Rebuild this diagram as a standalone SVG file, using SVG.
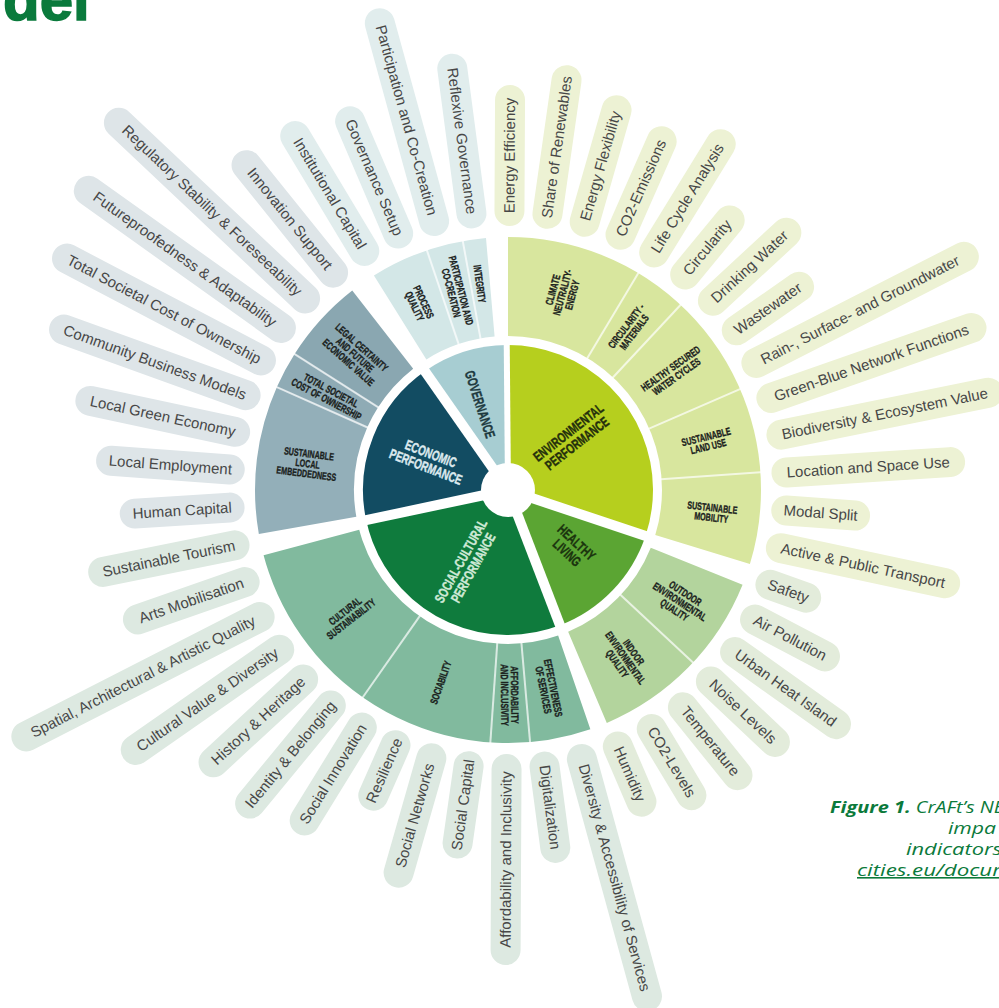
<svg xmlns="http://www.w3.org/2000/svg" width="999" height="1008" viewBox="0 0 999 1008">
<style>
.mid{fill:none;stroke-width:99}
.inn{fill:none;stroke-width:145}
.pill text{font-family:"Liberation Sans",Arial,sans-serif;font-size:15px;fill:#474747;text-anchor:middle}
.cE rect{fill:#edf2d4}
.cH rect{fill:#e3ecdb}
.cS rect{fill:#dde9e1}
.cC rect{fill:#dee5e8}
.cG rect{fill:#e1eded}
.ml{font-family:"Liberation Sans",Arial,sans-serif;font-weight:bold;font-size:10.5px;fill:#1a211c;stroke:#1a211c;stroke-width:0.35;text-anchor:middle}
.il{font-family:"Liberation Sans",Arial,sans-serif;font-weight:bold;font-size:14px;stroke-width:0.4;text-anchor:middle}
.sep{stroke:#fff;stroke-width:10;fill:none}
.sub{stroke:#fff;stroke-opacity:.7;stroke-width:2;fill:none}
.cap{font-family:"Open Sans","Liberation Sans",sans-serif;font-style:italic;font-size:16px;fill:#0b7a3b}
</style>
<rect width="999" height="1008" fill="#fff"/>
<text x="3" y="20" font-family="Liberation Sans, Arial, sans-serif" font-weight="bold" font-size="60" fill="#0a7a3c" stroke="#0a7a3c" stroke-width="1.5">del</text>

<!-- middle ring -->
<g id="mid-environmental"><circle class="mid" cx="508" cy="490" r="203.5" stroke="#d8e69e" stroke-dasharray="380 2000" transform="rotate(-90 508 490)"/>
<text class="ml" transform="translate(562.4,292.4) rotate(-74.6) scale(0.68,1)"><tspan x="0" y="-6.24">CLIMATE</tspan><tspan x="0" y="3.76">NEUTRALITY-</tspan><tspan x="0" y="13.76">ENERGY</tspan></text>
<text class="ml" transform="translate(630.1,329.1) rotate(-52.8) scale(0.68,1)"><tspan x="0" y="-1.24">CIRCULARITY -</tspan><tspan x="0" y="8.76">MATERIALS</tspan></text>
<text class="ml" transform="translate(673.5,372.4) rotate(-35.4) scale(0.68,1)"><tspan x="0" y="-1.24">HEALTHY SECURED</tspan><tspan x="0" y="8.76">WATER CYCLES</tspan></text>
<text class="ml" transform="translate(707.2,441.5) rotate(-13.7) scale(0.68,1)"><tspan x="0" y="-1.24">SUSTAINABLE</tspan><tspan x="0" y="8.76">LAND USE</tspan></text>
<text class="ml" transform="translate(711.8,512.5) rotate(6.3) scale(0.68,1)"><tspan x="0" y="-1.24">SUSTAINABLE</tspan><tspan x="0" y="8.76">MOBILITY</tspan></text>
</g>
<g id="mid-healthy"><circle class="mid" cx="508" cy="490" r="203.5" stroke="#b3d49d" stroke-dasharray="159.8 2000" transform="rotate(22 508 490)"/>
<text class="ml" transform="translate(679.9,601.6) rotate(33) scale(0.68,1)"><tspan x="0" y="-6.24">OUTDOOR</tspan><tspan x="0" y="3.76">ENVIRONMENTAL</tspan><tspan x="0" y="13.76">QUALITY</tspan></text>
<text class="ml" transform="translate(625.6,657.9) rotate(55) scale(0.68,1)"><tspan x="0" y="-6.24">INDOOR</tspan><tspan x="0" y="3.76">ENVIRONMENTAL</tspan><tspan x="0" y="13.76">QUALITY</tspan></text>
</g>
<g id="mid-social"><circle class="mid" cx="508" cy="490" r="203.5" stroke="#81ba9e" stroke-dasharray="333.9 2000" transform="rotate(71 508 490)"/>
<text class="ml" transform="translate(548.5,688.9) rotate(78.5) scale(0.68,1)"><tspan x="0" y="-1.24">EFFECTIVENESS</tspan><tspan x="0" y="8.76">OF SERVICES</tspan></text>
<text class="ml" transform="translate(509.8,695) rotate(89.5) scale(0.68,1)"><tspan x="0" y="-1.24">AFFORDABILITY</tspan><tspan x="0" y="8.76">AND INCLUSIVITY</tspan></text>
<text class="ml" transform="translate(440.6,682.5) rotate(-70.7) scale(0.68,1)"><tspan x="0" y="3.76">SOCIABILITY</tspan></text>
<text class="ml" transform="translate(348,615) rotate(-38) scale(0.68,1)"><tspan x="0" y="-1.24">CULTURAL</tspan><tspan x="0" y="8.76">SUSTAINABILITY</tspan></text>
</g>
<g id="mid-economic">
<circle class="mid" cx="508" cy="490" r="203.5" stroke="#93afb9" stroke-dasharray="120.8 2000" transform="rotate(170 508 490)"/>
<circle class="mid" cx="508" cy="490" r="203.5" stroke="#8fabb5" stroke-dasharray="30.2 2000" transform="rotate(204 508 490)"/>
<circle class="mid" cx="508" cy="490" r="203.5" stroke="#8aa7b1" stroke-dasharray="69.3 2000" transform="rotate(212.5 508 490)"/>
<text class="ml" transform="translate(307.7,463.6) rotate(7.5) scale(0.68,1)"><tspan x="0" y="-6.24">SUSTAINABLE</tspan><tspan x="0" y="3.76">LOCAL</tspan><tspan x="0" y="13.76">EMBEDDEDNESS</tspan></text>
<text class="ml" transform="translate(328.8,394.7) rotate(28) scale(0.68,1)"><tspan x="0" y="-1.24">TOTAL SOCIETAL</tspan><tspan x="0" y="8.76">COST OF OWNERSHIP</tspan></text>
<text class="ml" transform="translate(355.2,354.8) rotate(41.5) scale(0.68,1)"><tspan x="0" y="-6.24">LEGAL CERTAINTY</tspan><tspan x="0" y="3.76">AND FUTURE</tspan><tspan x="0" y="13.76">ECONOMIC VALUE</tspan></text>
</g>
<g id="mid-governance"><circle class="mid" cx="508" cy="490" r="203.5" stroke="#d3e7e7" stroke-dasharray="95.9 2000" transform="rotate(238 508 490)"/>
<text class="ml" transform="translate(419.3,304.1) rotate(64.5) scale(0.68,1)"><tspan x="0" y="-1.24">PROCESS</tspan><tspan x="0" y="8.76">QUALITY</tspan></text>
<text class="ml" transform="translate(456.3,291.6) rotate(75.4) scale(0.68,1)"><tspan x="0" y="-1.24">PARTICIPATION AND</tspan><tspan x="0" y="8.76">CO-CREATION</tspan></text>
<text class="ml" transform="translate(479.8,283.9) rotate(82.2) scale(0.68,1)"><tspan x="0" y="3.76">INTEGRITY</tspan></text>
</g>

<!-- inner ring -->
<g id="environmental-performance"><circle class="inn" cx="508" cy="490" r="72.5" stroke="#b6cf1e" stroke-dasharray="137.9 1000" transform="rotate(-90.5 508 490)"/>
<text class="il" fill="#242f0c" stroke="#242f0c" transform="translate(572.5,437.8) rotate(-38) scale(0.7,1)"><tspan x="0" y="-2">ENVIRONMENTAL</tspan><tspan x="0" y="12">PERFORMANCE</tspan></text></g>
<g id="healthy-living"><circle class="inn" cx="508" cy="490" r="72.5" stroke="#5ba533" stroke-dasharray="63.9 1000" transform="rotate(18.5 508 490)"/>
<text class="il" fill="#1a330e" stroke="#1a330e" transform="translate(571.9,547.5) rotate(43) scale(0.7,1)"><tspan x="0" y="-2">HEALTHY</tspan><tspan x="0" y="12">LIVING</tspan></text></g>
<g id="social-cultural-performance"><circle class="inn" cx="508" cy="490" r="72.5" stroke="#0f7b3d" stroke-dasharray="125.3 1000" transform="rotate(69 508 490)"/>
<text class="il" fill="#cfe9d6" stroke="#cfe9d6" transform="translate(466.8,564.3) rotate(-61) scale(0.7,1)"><tspan x="0" y="-2">SOCIAL-CULTURAL</tspan><tspan x="0" y="12">PERFORMANCE</tspan></text></g>
<g id="economic-performance"><circle class="inn" cx="508" cy="490" r="72.5" stroke="#124c62" stroke-dasharray="84.8 1000" transform="rotate(168 508 490)"/>
<text class="il" fill="#dce9ee" stroke="#dce9ee" transform="translate(428.4,460.1) rotate(21) scale(0.7,1)"><tspan x="0" y="-2">ECONOMIC</tspan><tspan x="0" y="12">PERFORMANCE</tspan></text></g>
<g id="governance"><circle class="inn" cx="508" cy="490" r="72.5" stroke="#a7cdd2" stroke-dasharray="43.7 1000" transform="rotate(235 508 490)"/>
<text class="il" fill="#1e3a40" stroke="#1e3a40" transform="translate(480.2,404.4) rotate(72) scale(0.7,1)"><tspan x="0" y="5">GOVERNANCE</tspan></text></g>

<g id="separators">
<line class="sep" x1="508" y1="490" x2="650.2" y2="537.6"/>
<line class="sep" x1="508" y1="490" x2="561.8" y2="630"/>
<line class="sep" x1="508" y1="490" x2="361.3" y2="521.2"/>
<line class="sep" x1="508" y1="490" x2="422" y2="367.1"/>
<line class="sep" x1="508" y1="490" x2="506.7" y2="340" style="stroke-width:6"/>
<line class="sub" x1="585.3" y1="361.4" x2="640.9" y2="268.8"/>
<line class="sub" x1="610.3" y1="380.3" x2="684" y2="301.3"/>
<line class="sub" x1="645.6" y1="430.2" x2="744.6" y2="387.1"/>
<line class="sub" x1="657.6" y1="479.5" x2="765.4" y2="472"/>
<line class="sub" x1="617.7" y1="592.3" x2="696.7" y2="666"/>
<line class="sub" x1="521.1" y1="639.4" x2="530.5" y2="747"/>
<line class="sub" x1="497.5" y1="639.6" x2="490" y2="747.4"/>
<line class="sub" x1="422" y1="612.9" x2="360" y2="701.3"/>
<line class="sub" x1="370.97" y1="429" x2="272.3" y2="385.1"/>
<line class="sub" x1="381.5" y1="409.4" x2="290.4" y2="351.4"/>
<line class="sub" x1="459.9" y1="347.9" x2="425.3" y2="245.6"/>
<line class="sub" x1="481.2" y1="342.4" x2="461.9" y2="236.2"/>
</g>
<circle id="hub" cx="508" cy="490" r="27" fill="#fff"/>

<!-- outer indicator pills -->
<g id="p00" class="pill cE" transform="rotate(-89.7 508 490)"><rect x="772" y="475" width="141" height="30" rx="15"/><text x="842.5" y="495">Energy Efficiency</text></g>
<g id="p01" class="pill cE" transform="rotate(-81.87 508 490)"><rect x="772" y="475" width="165" height="30" rx="15"/><text x="854.5" y="495">Share of Renewables</text></g>
<g id="p02" class="pill cE" transform="rotate(-74.05 508 490)"><rect x="772" y="475" width="146" height="30" rx="15"/><text x="845" y="495">Energy Flexibility</text></g>
<g id="p03" class="pill cE" transform="rotate(-66.22 508 490)"><rect x="772" y="475" width="132" height="30" rx="15"/><text x="838" y="495">CO2-Emissions</text></g>
<g id="p04" class="pill cE" transform="rotate(-58.4 508 490)"><rect x="772" y="475" width="157" height="30" rx="15"/><text x="850.5" y="495">Life Cycle Analysis</text></g>
<g id="p05" class="pill cE" transform="rotate(-50.57 508 490)"><rect x="772" y="475" width="100" height="30" rx="15"/><text x="822" y="495">Circularity</text></g>
<g id="p06" class="pill cE" transform="rotate(-42.74 508 490)"><rect x="772" y="475" width="130" height="30" rx="15"/><text x="837" y="495">Drinking Water</text></g>
<g id="p07" class="pill cE" transform="rotate(-34.92 508 490)"><rect x="772" y="475" width="106" height="30" rx="15"/><text x="825" y="495">Wastewater</text></g>
<g id="p08" class="pill cE" transform="rotate(-27.09 508 490)"><rect x="772" y="475" width="263" height="30" rx="15"/><text x="903.5" y="495">Rain-, Surface- and Groundwater</text></g>
<g id="p09" class="pill cE" transform="rotate(-19.27 508 490)"><rect x="772" y="475" width="242" height="30" rx="15"/><text x="893" y="495">Green-Blue Network Functions</text></g>
<g id="p10" class="pill cE" transform="rotate(-11.44 508 490)"><rect x="772" y="475" width="241" height="30" rx="15"/><text x="892.5" y="495">Biodiversity &amp; Ecosystem Value</text></g>
<g id="p11" class="pill cE" transform="rotate(-3.61 508 490)"><rect x="772" y="475" width="194" height="30" rx="15"/><text x="869" y="495">Location and Space Use</text></g>
<g id="p12" class="pill cE" transform="rotate(4.21 508 490)"><rect x="772" y="475" width="99" height="30" rx="15"/><text x="821.5" y="495">Modal Split</text></g>
<g id="p13" class="pill cE" transform="rotate(12.04 508 490)"><rect x="772" y="475" width="198" height="30" rx="15"/><text x="871" y="495">Active &amp; Public Transport</text></g>
<g id="p14" class="pill cH" transform="rotate(19.86 508 490)"><rect x="772" y="475" width="68" height="30" rx="15"/><text x="806" y="495">Safety</text></g>
<g id="p15" class="pill cH" transform="rotate(27.69 508 490)"><rect x="772" y="475" width="109" height="30" rx="15"/><text x="826.5" y="495">Air Pollution</text></g>
<g id="p16" class="pill cH" transform="rotate(35.52 508 490)"><rect x="772" y="475" width="154" height="30" rx="15"/><text x="849" y="495">Urban Heat Island</text></g>
<g id="p17" class="pill cH" transform="rotate(43.34 508 490)"><rect x="772" y="475" width="118" height="30" rx="15"/><text x="831" y="495">Noise Levels</text></g>
<g id="p18" class="pill cH" transform="rotate(51.17 508 490)"><rect x="772" y="475" width="117" height="30" rx="15"/><text x="830.5" y="495">Temperature</text></g>
<g id="p19" class="pill cH" transform="rotate(58.99 508 490)"><rect x="772" y="475" width="107" height="30" rx="15"/><text x="825.5" y="495">CO2-Levels</text></g>
<g id="p20" class="pill cH" transform="rotate(66.82 508 490)"><rect x="772" y="475" width="90" height="30" rx="15"/><text x="817" y="495">Humidity</text></g>
<g id="p21" class="pill cS" transform="rotate(74.65 508 490)"><rect x="772" y="475" width="276" height="30" rx="15"/><text x="910" y="495">Diversity &amp; Accessibility of Services</text></g>
<g id="p22" class="pill cS" transform="rotate(82.47 508 490)"><rect x="772" y="475" width="112" height="30" rx="15"/><text x="828" y="495">Digitalization</text></g>
<g id="p23" class="pill cS" transform="rotate(-89.7 508 490)"><rect x="33" y="475" width="211" height="30" rx="15"/><text x="138.5" y="495">Affordability and Inclusivity</text></g>
<g id="p24" class="pill cS" transform="rotate(-81.88 508 490)"><rect x="136" y="475" width="108" height="30" rx="15"/><text x="190" y="495">Social Capital</text></g>
<g id="p25" class="pill cS" transform="rotate(-74.05 508 490)"><rect x="95" y="475" width="149" height="30" rx="15"/><text x="169.5" y="495">Social Networks</text></g>
<g id="p26" class="pill cS" transform="rotate(-66.22 508 490)"><rect x="159" y="475" width="85" height="30" rx="15"/><text x="201.5" y="495">Resilience</text></g>
<g id="p27" class="pill cS" transform="rotate(-58.4 508 490)"><rect x="105" y="475" width="139" height="30" rx="15"/><text x="174.5" y="495">Social Innovation</text></g>
<g id="p28" class="pill cS" transform="rotate(-50.57 508 490)"><rect x="87" y="475" width="157" height="30" rx="15"/><text x="165.5" y="495">Identity &amp; Belonging</text></g>
<g id="p29" class="pill cS" transform="rotate(-42.75 508 490)"><rect x="92" y="475" width="152" height="30" rx="15"/><text x="168" y="495">History &amp; Heritage</text></g>
<g id="p30" class="pill cS" transform="rotate(-34.92 508 490)"><rect x="39" y="475" width="205" height="30" rx="15"/><text x="141.5" y="495">Cultural Value &amp; Diversity</text></g>
<g id="p31" class="pill cS" transform="rotate(-27.09 508 490)"><rect x="-48" y="475" width="292" height="30" rx="15"/><text x="98" y="495">Spatial, Architectural &amp; Artistic Quality</text></g>
<g id="p32" class="pill cS" transform="rotate(-19.27 508 490)"><rect x="101" y="475" width="143" height="30" rx="15"/><text x="172.5" y="495">Arts Mobilisation</text></g>
<g id="p33" class="pill cS" transform="rotate(-11.44 508 490)"><rect x="80" y="475" width="164" height="30" rx="15"/><text x="162" y="495">Sustainable Tourism</text></g>
<g id="p34" class="pill cC" transform="rotate(-3.62 508 490)"><rect x="119" y="475" width="125" height="30" rx="15"/><text x="181.5" y="495">Human Capital</text></g>
<g id="p35" class="pill cC" transform="rotate(4.21 508 490)"><rect x="95" y="475" width="149" height="30" rx="15"/><text x="169.5" y="495">Local Employment</text></g>
<g id="p36" class="pill cC" transform="rotate(12.04 508 490)"><rect x="66" y="475" width="178" height="30" rx="15"/><text x="155" y="495">Local Green Economy</text></g>
<g id="p37" class="pill cC" transform="rotate(19.86 508 490)"><rect x="21" y="475" width="223" height="30" rx="15"/><text x="132.5" y="495">Community Business Models</text></g>
<g id="p38" class="pill cC" transform="rotate(27.69 508 490)"><rect x="-5" y="475" width="249" height="30" rx="15"/><text x="119.5" y="495">Total Societal Cost of Ownership</text></g>
<g id="p39" class="pill cC" transform="rotate(35.51 508 490)"><rect x="-22" y="475" width="266" height="30" rx="15"/><text x="111" y="495">Futureproofedness &amp; Adaptability</text></g>
<g id="p40" class="pill cC" transform="rotate(43.34 508 490)"><rect x="-42" y="475" width="286" height="30" rx="15"/><text x="101" y="495">Regulatory Stability &amp; Foreseeability</text></g>
<g id="p41" class="pill cC" transform="rotate(51.17 508 490)"><rect x="76" y="475" width="168" height="30" rx="15"/><text x="160" y="495">Innovation Support</text></g>
<g id="p42" class="pill cG" transform="rotate(58.99 508 490)"><rect x="80" y="475" width="164" height="30" rx="15"/><text x="162" y="495">Institutional Capital</text></g>
<g id="p43" class="pill cG" transform="rotate(66.82 508 490)"><rect x="92" y="475" width="152" height="30" rx="15"/><text x="168" y="495">Governance Setup</text></g>
<g id="p44" class="pill cG" transform="rotate(74.64 508 490)"><rect x="9" y="475" width="235" height="30" rx="15"/><text x="124.5" y="495">Participation and Co-Creation</text></g>
<g id="p45" class="pill cG" transform="rotate(82.47 508 490)"><rect x="68" y="475" width="176" height="30" rx="15"/><text x="156" y="495">Reflexive Governance</text></g>

<g id="caption">
<text class="cap" x="830" y="813" textLength="174" lengthAdjust="spacingAndGlyphs"><tspan font-weight="bold">Figure 1.</tspan> CrAFt’s NE</text>
<text class="cap" x="948" y="834" textLength="48" lengthAdjust="spacingAndGlyphs">impa</text>
<text class="cap" x="906" y="855" textLength="96" lengthAdjust="spacingAndGlyphs">indicators</text>
<text class="cap" x="857" y="876" textLength="144" lengthAdjust="spacingAndGlyphs" text-decoration="underline">cities.eu/docur</text>
</g>
</svg>
